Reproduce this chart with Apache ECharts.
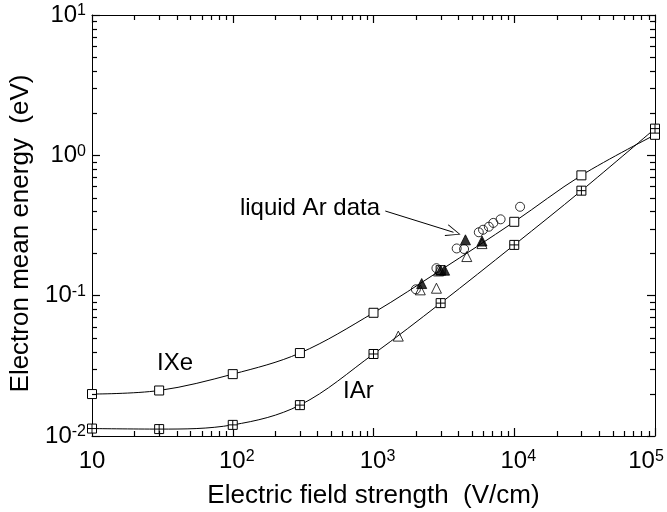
<!DOCTYPE html>
<html><head><meta charset="utf-8">
<script src="https://cdn.jsdelivr.net/npm/echarts@6/dist/echarts.min.js"></script>
<style>html,body{margin:0;padding:0;background:#fff}#c{width:667px;height:512px}</style>
</head><body><div id="c"></div>
<script>
// Calculated curves
const fieldIXe  = [10, 30, 100, 300, 1000, 3000, 10000, 30000, 100000];
const energyIXe = [0.0199, 0.0211, 0.0276, 0.039, 0.0755, 0.152, 0.336, 0.72, 1.40];
const fieldIAr  = [10, 30, 100, 300, 1000, 3000, 10000, 30000, 100000];
const energyIAr = [0.0113, 0.0112, 0.0120, 0.0166, 0.0384, 0.0885, 0.23, 0.56, 1.55];
// liquid Ar data
const circField  = [11000, 8000, 7100, 6600, 6000, 5600, 3900, 4400, 2800, 2000];
const circEnergy = [0.43, 0.35, 0.33, 0.31, 0.295, 0.283, 0.217, 0.215, 0.157, 0.111];
const openTriField  = [1500, 2150, 2800, 2900, 4600, 5900];
const openTriEnergy = [0.0515, 0.11, 0.113, 0.15, 0.19, 0.235];
const fillTriField  = [2200, 3000, 3200, 4500, 5900];
const fillTriEnergy = [0.122, 0.152, 0.152, 0.25, 0.245];
// axes
const xMin = 10, xMax = 100000, yMin = 0.01, yMax = 10;
const minorMult = [2, 3, 4, 5, 6, 7, 8, 9];
const xDecades = [10, 100, 1000, 10000];
const yDecades = [0.01, 0.1, 1];
// annotations
const arrowFrom = [1213, 0.401], arrowTo = [3700, 0.283];

const pairs = (xs, ys) => xs.map((x, i) => [x, ys[i]]);
const chart = echarts.init(document.getElementById('c'));
const FONT = 'Liberation Sans, Arial, sans-serif';
const rich = {
  sp: {width: 8, fontSize: 24, fontFamily: FONT},
  sp2: {width: 18, fontSize: 24, fontFamily: FONT},
  b: {fontSize: 24, lineHeight: 24, fontFamily: FONT, color: '#000'},
  s: {fontSize: 16, lineHeight: 12, verticalAlign: 'top', fontFamily: FONT, color: '#000'}
};
const expOf = v => Math.round(Math.log10(v));
const crossSq = 'path://M0,0H10V10H0Z M5,0V10 M0,5H10';
const chevron = 'path://M0,12 L5,0 L10,12 L9.3,12.4 L5,1.6 L0.7,12.4 Z';

function minorTicks(params, api) {
  const lines = [];
  const add = (x1, y1, x2, y2) => lines.push({type: 'line', shape: {x1: x1, y1: y1, x2: x2, y2: y2},
    style: {stroke: '#000', lineWidth: 1.2}});
  const pTop = api.coord([xMin, yMax])[1];
  const pBot = api.coord([xMin, yMin])[1];
  const pLft = api.coord([xMin, yMin])[0];
  const pRgt = api.coord([xMax, yMin])[0];
  xDecades.forEach(d => minorMult.forEach(m => {
    const px = Math.round(api.coord([d * m, yMin])[0]) + 0.5;
    add(px, pBot, px, pBot - 5);
    add(px, pTop, px, pTop + 5);
  }));
  yDecades.forEach(d => minorMult.forEach(m => {
    const py = Math.round(api.coord([xMin, d * m])[1]) + 0.5;
    add(pLft, py, pLft + 5, py);
    add(pRgt, py, pRgt - 5, py);
  }));
  return {type: 'group', children: lines};
}

const tickStyle = {show: true, inside: true, length: 8, lineStyle: {color: '#000', width: 1.2}};
const option = {
  animation: false,
  backgroundColor: '#fff',
  grid: {left: 92, right: 12, top: 15, bottom: 76, outerBoundsMode: 'none', containLabel: false},
  xAxis: [{
    type: 'log', min: xMin, max: xMax, logBase: 10,
    name: 'Electric field strength  (V/cm)', nameLocation: 'middle', nameGap: 47,
    nameTextStyle: {fontSize: 26, fontFamily: FONT, color: '#000'},
    axisLine: {lineStyle: {color: '#000', width: 1}},
    axisTick: tickStyle,
    splitLine: {show: false},
    axisLabel: {
      margin: 13, rich: rich,
      formatter: v => {
        const e = expOf(v);
        if (e === 1) return '{b|10}';
        if (v >= xMax) return '{b|10}{s|' + e + '}{sp2|}';
        return '{sp|}{b|10}{s|' + e + '}';
      }
    }
  }, {
    type: 'log', min: xMin, max: xMax, logBase: 10, position: 'top',
    axisLine: {lineStyle: {color: '#000', width: 1}},
    axisTick: tickStyle,
    axisLabel: {show: false}, splitLine: {show: false}
  }],
  yAxis: [{
    type: 'log', min: yMin, max: yMax, logBase: 10,
    name: 'Electron mean energy  (eV)', nameLocation: 'middle', nameGap: 58, nameRotate: 90,
    nameTextStyle: {fontSize: 26, fontFamily: FONT, color: '#000', padding: [0, 16, 0, 0]},
    axisLine: {lineStyle: {color: '#000', width: 1}},
    axisTick: tickStyle,
    splitLine: {show: false},
    axisLabel: {margin: 6, rich: rich, formatter: v => '{b|10}{s|' + expOf(v) + '}'}
  }, {
    type: 'log', min: yMin, max: yMax, logBase: 10, position: 'right',
    axisLine: {lineStyle: {color: '#000', width: 1}},
    axisTick: tickStyle,
    axisLabel: {show: false}, splitLine: {show: false}
  }],
  series: [
    {type: 'line', name: 'IXe', data: pairs(fieldIXe, energyIXe), smooth: 0.35,
     symbol: 'rect', symbolSize: 9, showAllSymbol: true,
     lineStyle: {color: '#000', width: 1},
     itemStyle: {color: '#fff', borderColor: '#000', borderWidth: 1}, z: 3},
    {type: 'line', name: 'IAr', data: pairs(fieldIAr, energyIAr), smooth: 0.35,
     symbol: crossSq, symbolSize: 9, showAllSymbol: true,
     lineStyle: {color: '#000', width: 1},
     itemStyle: {color: '#fff', borderColor: '#000', borderWidth: 1}, z: 3},
    {type: 'scatter', name: 'circ', data: pairs(circField, circEnergy),
     symbol: 'circle', symbolSize: 9,
     itemStyle: {color: 'rgba(0,0,0,0)', borderColor: '#000', borderWidth: 1}, z: 4,
     markLine: {
       silent: true, symbol: ['none', chevron], symbolSize: [12, 15],
       lineStyle: {color: '#000', width: 1, type: 'solid'}, label: {show: false},
       emphasis: {disabled: true},
       data: [[{coord: arrowFrom}, {coord: arrowTo}]]
     }},
    {type: 'scatter', name: 'otri', data: pairs(openTriField, openTriEnergy),
     symbol: 'triangle', symbolSize: 10,
     itemStyle: {color: 'rgba(0,0,0,0)', borderColor: '#000', borderWidth: 1}, z: 4},
    {type: 'scatter', name: 'ftri', data: pairs(fillTriField, fillTriEnergy),
     symbol: 'triangle', symbolSize: 10,
     itemStyle: {color: '#000', borderColor: '#000', borderWidth: 1}, z: 5},
    {type: 'custom', name: 'minorTicks', data: [[xMin, yMin]], renderItem: minorTicks,
     silent: true, clip: false, z: 10}
  ],
  graphic: [
    {type: 'text', silent: true, z: 10, x: 157, y: 363,
     style: {text: 'IXe', fontSize: 24, fontFamily: FONT, fill: '#000', align: 'left', verticalAlign: 'middle'}},
    {type: 'text', silent: true, z: 10, x: 343, y: 391,
     style: {text: 'IAr', fontSize: 24, fontFamily: FONT, fill: '#000', align: 'left', verticalAlign: 'middle'}},
    {type: 'text', silent: true, z: 10, x: 380, y: 208,
     style: {text: 'liquid Ar data', fontSize: 24, fontFamily: FONT, fill: '#000', align: 'right', verticalAlign: 'middle'}}
  ]
};
chart.setOption(option);
</script></body></html>
